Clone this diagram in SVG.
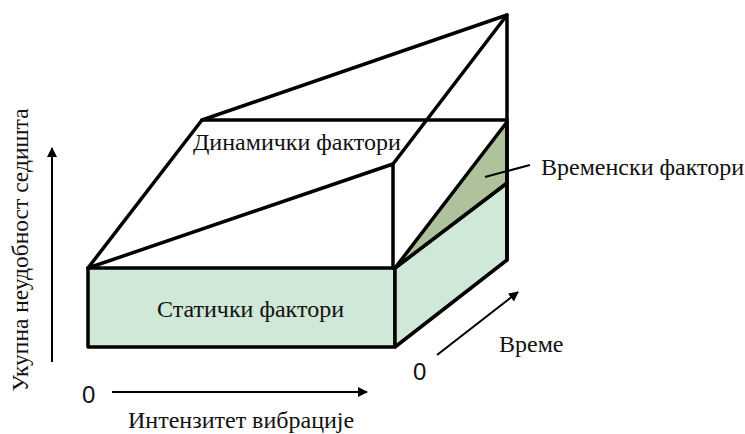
<svg xmlns="http://www.w3.org/2000/svg" width="745" height="434" viewBox="0 0 745 434">
<defs>
<style>
.edge{fill:none;stroke:#000;stroke-width:3.5;stroke-linejoin:round;stroke-linecap:round}
.face{stroke:#000;stroke-width:3.5;stroke-linejoin:round}
.light{fill:#cfe8d7}
.dark{fill:#aec39c}
.axis{fill:none;stroke:#000;stroke-width:2}
.lbl{font-size:24px;fill:#111}
.num{font-size:24px;fill:#111}
</style>
<marker id="ah" viewBox="0 0 10 10" refX="9" refY="5" markerWidth="5" markerHeight="5" orient="auto" markerUnits="strokeWidth">
<path d="M0,0 L10,5 L0,10 z" fill="#000"/>
</marker>
</defs>
<rect width="745" height="434" fill="#fff"/>
<g id="static-factors">
<rect class="face light" x="88" y="268" width="307" height="79"/>
<polygon class="face light" points="395,268 507,183 507,260 395,347"/>
<text class="lbl" font-family="Liberation Serif, Times New Roman, DejaVu Serif, serif" x="157" y="317">Статички фактори</text>
</g>
<g id="time-factors">
<polygon class="face dark" points="395,268 507,122 507,183"/>
</g>
<g id="dynamic-factors">
<polyline class="edge" points="88,268 202,120 507,120"/>
<polyline class="edge" points="202,120 507,15 507,260"/>
<polyline class="edge" points="88,268 393,164 393,268"/>
<line class="edge" x1="393" y1="164" x2="507" y2="15"/>
<text class="lbl" font-family="Liberation Serif, Times New Roman, DejaVu Serif, serif" x="193" y="150">Динамички фактори</text>
</g>
<g id="connectors">
<line class="axis" x1="52" y1="362" x2="52" y2="148" marker-end="url(#ah)"/>
<line class="axis" x1="112" y1="392" x2="367" y2="392" marker-end="url(#ah)"/>
<line class="axis" x1="437" y1="355" x2="518" y2="292" marker-end="url(#ah)"/>
<line class="axis" x1="485" y1="177" x2="530" y2="165" stroke-width="1.5"/>
</g>
<g id="labels" font-family="Liberation Serif, Times New Roman, DejaVu Serif, serif">
<text class="lbl" x="541" y="175">Временски фактори</text>
<text class="lbl" x="499" y="352">Време</text>
<text class="lbl" x="128" y="428">Интензитет вибрације</text>
<text class="lbl" font-size="23.5" transform="translate(28,250) rotate(-90)" text-anchor="middle" style="font-size:23.5px">Укупна неудобност седишта</text>
<text class="num" font-family="Liberation Sans, Arial, sans-serif" x="82" y="403">0</text>
<text class="num" font-family="Liberation Sans, Arial, sans-serif" x="413" y="380">0</text>
</g>
</svg>
